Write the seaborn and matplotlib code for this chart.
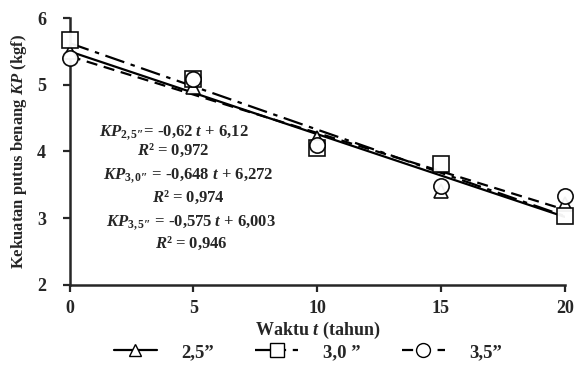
import numpy as np
import pandas as pd
import seaborn as sns
import matplotlib.pyplot as plt
from matplotlib.lines import Line2D

# data
waktu = [0, 5, 10, 15, 20]
kp_25 = [5.49, 4.97, 4.20, 3.41, 3.22]
kp_30 = [5.67, 5.08, 4.05, 3.82, 3.04]
kp_35 = [5.40, 5.09, 4.10, 3.49, 3.33]
labels = ["2,5\u201d", "3,0 \u201d", "3,5\u201d"]

# trend coefficients (t counted as step 1..5)
slopes = [-0.62, -0.648, -0.575]
intercepts = [6.12, 6.272, 6.003]
r2 = ["0,972", "0,974", "0,946"]
eq_txt = [r"$KP_{\mathrm{2,5″}}$= -0,62 $t$ + 6,12",
          r"$KP_{\mathrm{3,0″}}$ = -0,648 $t$ + 6,272",
          r"$KP_{\mathrm{3,5″}}$ = -0,575 $t$ + 6,003"]

sns.set_style("ticks")
plt.rcParams['font.family'] = ['Liberation Serif', 'DejaVu Serif']
plt.rcParams['font.weight'] = 'bold'
plt.rcParams['mathtext.fontset'] = 'custom'
plt.rcParams['mathtext.rm'] = 'Liberation Serif:bold'
plt.rcParams['mathtext.it'] = 'Liberation Serif:italic:bold'
plt.rcParams['mathtext.bf'] = 'Liberation Serif:bold'

fig = plt.figure(figsize=(5.81, 3.85), dpi=100)
ax = fig.add_axes([0.12, 0.26, 0.852, 0.693])

series = [kp_25, kp_30, kp_35]
markers = ["^", "s", "o"]
msizes = [10, 11, 11]
styles = ["-", (0, (9, 3, 2, 3)), (0, (5, 3))]

t = np.array(waktu)
for ys, m, s, ls, a, b in zip(series, markers, msizes, styles, slopes, intercepts):
    fit = pd.DataFrame({"t": t, "kp": b + a * (t / 5 + 1)})
    sns.lineplot(data=fit, x="t", y="kp", ax=ax, color="black", lw=1.6, linestyle=ls)
    df = pd.DataFrame({"t": waktu, "kp": ys})
    ax.plot(df.t, df.kp, ls="none", marker=m, ms=s, mfc="white", mec="black", mew=1.2,
            alpha=0.95, clip_on=False, zorder=5)

# equation texts
eq_pos = [(4.2, 4.29), (4.8, 3.64), (4.9, 2.93)]
r2_pos = [(4.2, 4.02), (4.8, 3.31), (4.9, 2.62)]
for e, r, (x1, y1), (x2, y2) in zip(eq_txt, r2, eq_pos, r2_pos):
    ax.text(x1, y1, e, ha="center", va="center", fontsize=12, fontweight="bold")
    ax.text(x2, y2, "$R$\u00b2 = " + r, ha="center", va="center", fontsize=12,
            fontweight="bold")

ax.set_xlim(0, 20)
ax.set_ylim(2, 6)
ax.set_xticks([0, 5, 10, 15, 20])
ax.set_yticks([2, 3, 4, 5, 6])
ax.tick_params(labelsize=13, width=1.6, length=5)
ax.tick_params(axis="y", pad=12)
ax.tick_params(axis="x", pad=6)
for lab in ax.get_xticklabels() + ax.get_yticklabels():
    lab.set_fontweight("bold")
sns.despine(ax=ax)
for sp in ["left", "bottom"]:
    ax.spines[sp].set_linewidth(1.8)

ax.set_xlabel("Waktu $t$ (tahun)", fontsize=13, fontweight="bold", labelpad=2)
ax.set_ylabel("Kekuatan putus benang $KP$ (kgf)", fontsize=12, fontweight="bold",
              labelpad=6)

handles = [Line2D([], [], color="black", lw=1.6, ls=ls, marker=m, ms=s - 1,
                  mfc="white", mec="black")
           for m, s, ls in zip(markers, msizes, styles)]
fig.legend(handles, labels, loc="center", bbox_to_anchor=(0.53, 0.085), ncol=3,
           frameon=False, handlelength=2.3, handletextpad=1.3, columnspacing=2.2,
           prop={"family": "Liberation Serif", "weight": "bold", "size": 13.5})

fig.savefig("out.png", dpi=100)
